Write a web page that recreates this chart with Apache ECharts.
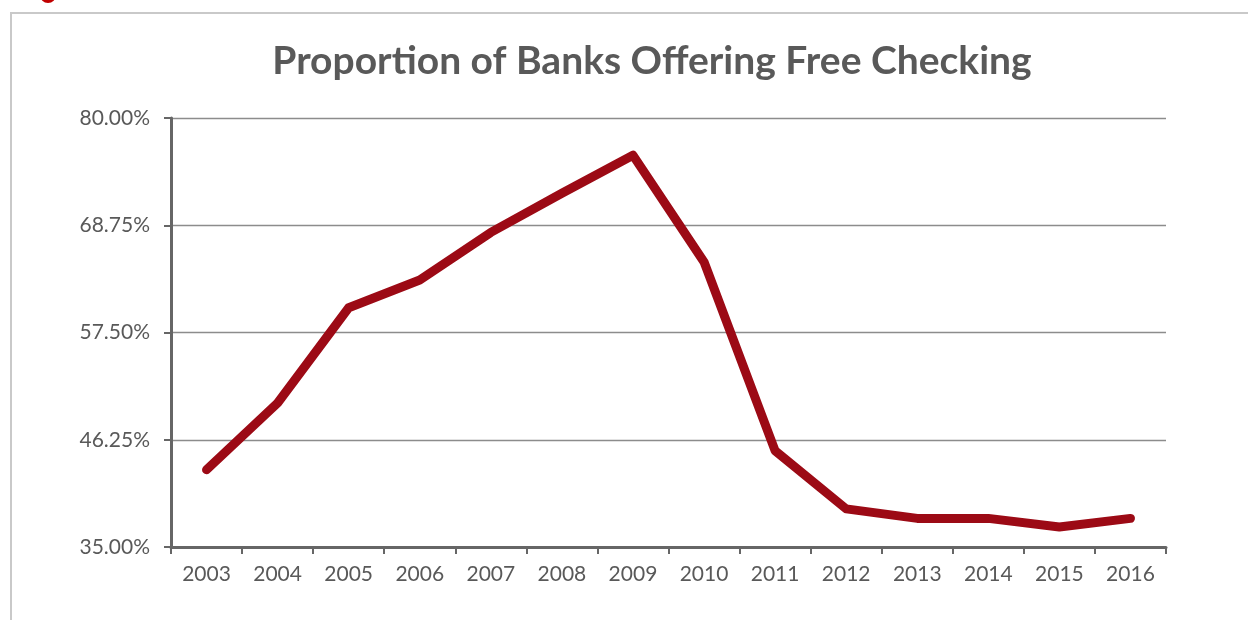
<!DOCTYPE html>
<html><head><meta charset="utf-8">
<script src="https://cdn.jsdelivr.net/npm/echarts@6/dist/echarts.min.js"></script>
<style>html,body{margin:0;padding:0;background:#fff}#c{width:1248px;height:620px}</style>
</head><body><div id="c"></div>
<script>
const title = 'Proportion of Banks Offering Free Checking';
const years = ['2003','2004','2005','2006','2007','2008','2009','2010','2011','2012','2013','2014','2015','2016'];
const freeChecking = [43.1, 50.1, 60.1, 63.0, 68.0, 72.1, 76.1, 64.9, 45.1, 39.0, 38.0, 38.0, 37.1, 38.0];
const yMin = 35, yMax = 80, yStep = 11.25;

const chart = echarts.init(document.getElementById('c'), null, {renderer:'canvas'});
const font = 'Lato, "Open Sans", sans-serif';
chart.setOption({
  animation:false,
  backgroundColor:'#fff',
  title:{text:title,left:647,textAlign:'center',top:37,
    textStyle:{fontFamily:font,fontWeight:'bold',fontSize:39,color:'#595959'}},
  graphic:[
    {type:'polyline',shape:{points:[[11,620],[11,13],[1248,13]]},style:{stroke:'#c9c9c9',lineWidth:2,fill:null}},
    {type:'circle',shape:{cx:48,cy:-5,r:8},style:{fill:'#c00000'}},
    {type:'circle',shape:{cx:48,cy:-5,r:5},style:{fill:'#fff'}}
  ],
  grid:{left:171,right:82,top:118,bottom:73},
  xAxis:{type:'category',data:years,boundaryGap:true,
    axisLine:{lineStyle:{color:'#666',width:3}},
    axisTick:{show:true,length:7,lineStyle:{color:'#666',width:2},alignWithLabel:false},
    axisLabel:{color:'#595959',fontFamily:font,fontSize:21,margin:17}},
  yAxis:{type:'value',min:yMin,max:yMax,interval:yStep,
    axisLine:{show:true,lineStyle:{color:'#666',width:3}},
    axisTick:{show:true,length:7,lineStyle:{color:'#666',width:2}},
    splitLine:{lineStyle:{color:'#8c8c8c',width:1.3}},
    axisLabel:{color:'#595959',fontFamily:font,fontSize:21,margin:21,
      formatter:v=>v.toFixed(2)+'%'}},
  series:[{type:'line',data:freeChecking,symbol:'none',
    lineStyle:{color:'#9c0a15',width:9,cap:'round',join:'round'}}]
});
</script></body></html>
